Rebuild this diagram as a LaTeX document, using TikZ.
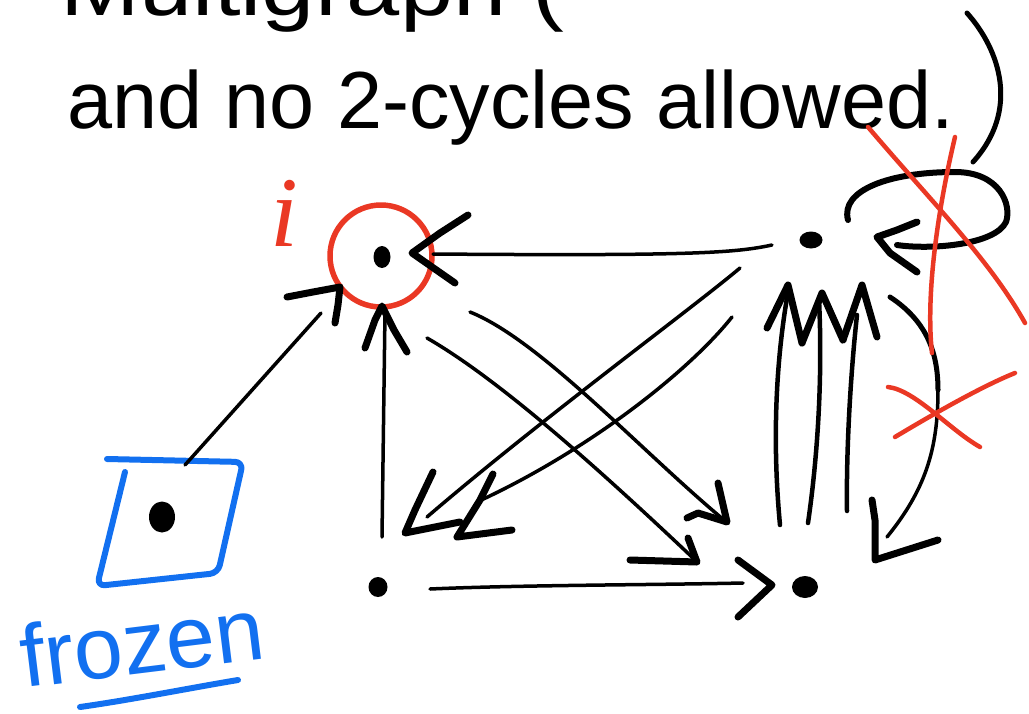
\documentclass[tikz,border=0pt]{standalone}
\usepackage{fontspec}
\setmainfont{Liberation Sans}
\newfontfamily\serifit{Liberation Serif}
\usetikzlibrary{shapes.geometric}
\definecolor{penred}{RGB}{234,56,36}
\definecolor{penblue}{RGB}{18,112,240}
\begin{document}
\begin{tikzpicture}[x=1pt,y=-1pt,line cap=round,line join=round,
  edge/.style={line width=3.5pt},
  tip/.style={line width=7pt},
  loopline/.style={line width=6pt},
  dotnode/.style={ellipse,fill=black,inner sep=0pt},
  redmark/.style={penred,line width=4.5pt},
  bluemark/.style={penblue,line width=6pt},
  handtext/.style={inner sep=0pt,anchor=base west}]
\useasboundingbox (0,0) rectangle (1029,713);

% ---- text ----
\node[handtext] (line1) at (60,15) {\fontsize{81}{90}\selectfont\scalebox{1.18}[1]{Multigraph (}};
\node[handtext] (line2) at (67,128) {\fontsize{81}{90}\selectfont and no 2-cycles allowed.};
\coordinate (pa) at (967,13); \coordinate (pb) at (973,162);
\draw[line width=5pt] (pa) .. controls (1000,50) and (1020,110) .. (pb);

% ---- vertices ----
\node[dotnode,minimum width=17pt,minimum height=22pt] (i) at (382,257) {};
\node[dotnode,minimum width=23pt,minimum height=17pt] (tr) at (811,240) {};
\node[dotnode,minimum width=19pt,minimum height=20pt] (bl) at (378,587) {};
\node[dotnode,minimum width=26pt,minimum height=22pt] (br) at (805,587) {};
\node[dotnode,minimum width=26pt,minimum height=31pt] (fz) at (162,517) {};
\node[draw=penred,circle,line width=5.5pt,minimum size=102pt,inner sep=0pt] (ring) at (381,256) {};
\node[handtext,text=penred] (ilabel) at (270,246) {\fontsize{100}{100}\selectfont\serifit\itshape i};

% ---- frozen box ----
\draw[bluemark,rounded corners=8pt] (107,459) -- (243,462) -- (218,573) -- (97,586) -- (125,472);
\node[handtext,text=penblue,rotate=7] (frozen) at (24,688) {\fontsize{88}{88}\selectfont frozen};
\coordinate (ulA) at (80,707); \coordinate (ulB) at (238,680);
\draw[bluemark] (ulA) .. controls (130,700) and (190,688) .. (ulB);

% ---- frozen -> i ----
\coordinate (fzS) at (185,465); \coordinate (fzE) at (321,313);
\draw[edge] (fzS) -- (fzE);
\draw[tip] (287,297) -- (313,292) -- (340,287) -- (338,305) -- (335,323);

% ---- tr -> i ----
\coordinate (tiS) at (772,245); \coordinate (tiE) at (433,254);
\draw[edge] (tiS) .. controls (735,253) and (690,256) .. (tiE);
\draw[tip] (468,215) -- (440,233) -- (412,253) -- (455,283);

% ---- bl -> i ----
\coordinate (biS) at (382,537); \coordinate (biE) at (385,312);
\draw[edge] (biS) -- (biE);
\draw[tip] (365,348) -- (375,320) -- (382,306) -- (394,330) -- (407,352);

% ---- i -> br (two) ----
\coordinate (aS) at (427,338); \coordinate (aE) at (693,558);
\draw[edge] (aS) .. controls (500,380) and (600,470) .. (aE);
\draw[tip] (688,538) -- (697,562) -- (630,560);
\coordinate (bS) at (470,312); \coordinate (bE) at (724,520);
\draw[edge] (bS) .. controls (540,340) and (640,450) .. (bE);
\draw[tip] (718,483) -- (727,522) -- (698,513) -- (687,518);

% ---- tr -> bl (two) ----
\coordinate (cS) at (740,268); \coordinate (cE) at (427,517);
\draw[edge] (cS) .. controls (690,310) and (540,420) .. (cE);
\draw[tip] (433,472) -- (415,510) -- (405,533) -- (460,522);
\coordinate (dS) at (732,317); \coordinate (dE) at (477,502);
\draw[edge] (dS) .. controls (690,370) and (590,450) .. (dE);
\draw[tip] (493,474) -- (480,500) -- (457,537) -- (512,530);

% ---- bl -> br ----
\coordinate (hS) at (430,589); \coordinate (hE) at (743,583);
\draw[edge] (hS) .. controls (520,585) and (650,585) .. (hE);
\draw[tip] (738,560) -- (772,585) -- (738,617);

% ---- br -> tr (three) ----
\coordinate (v1S) at (780,525); \coordinate (v1E) at (788,292);
\coordinate (v2S) at (808,523); \coordinate (v2E) at (819,300);
\coordinate (v3S) at (847,511); \coordinate (v3E) at (857,315);
\draw[line width=4.5pt] (v1S) .. controls (772,440) and (776,360) .. (v1E);
\draw[line width=4.5pt] (v2S) .. controls (820,440) and (822,360) .. (v2E);
\draw[line width=4.5pt] (v3S) .. controls (846,440) and (852,360) .. (v3E);
\draw[tip] (767,328) -- (788,285) -- (802,343);
\draw[tip] (802,343) -- (822,293) -- (843,340);
\draw[tip] (843,340) -- (862,285) -- (877,337);

% ---- tr -> br curved ----
\coordinate (rS) at (890,297); \coordinate (rE) at (887,537);
\draw[line width=5pt] (rS) .. controls (925,320) and (938,350) .. (938,390);
\draw[edge] (938,390) .. controls (938,450) and (925,490) .. (rE);
\draw[tip] (872,500) -- (875,520) -- (875,560) -- (938,540);

% ---- self loop at tr ----
\coordinate (lS) at (848,220); \coordinate (lE) at (897,245);
\draw[loopline] (lS) .. controls (840,190) and (890,172) .. (955,172)
  .. controls (1000,172) and (1012,205) .. (1006,222)
  .. controls (995,245) and (930,250) .. (lE);
\draw[tip] (917,222) -- (897,230) -- (877,237) -- (890,253) -- (917,272);

% ---- red crosses ----
\draw[redmark] (868,127) .. controls (930,200) and (990,260) .. (1025,323);
\draw[redmark] (955,137) .. controls (940,200) and (925,290) .. (932,353);
\draw[redmark] (888,387) .. controls (915,390) and (950,430) .. (980,447);
\draw[redmark] (895,437) .. controls (940,410) and (985,385) .. (1015,373);
\end{tikzpicture}
\end{document}
